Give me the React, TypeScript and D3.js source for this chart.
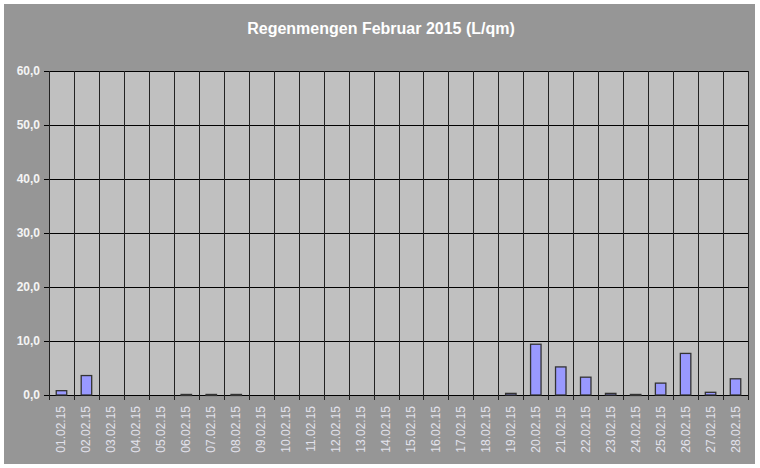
import React from "react";
import * as d3 from "d3";

const categories = [
  "01.02.15","02.02.15","03.02.15","04.02.15","05.02.15","06.02.15","07.02.15",
  "08.02.15","09.02.15","10.02.15","11.02.15","12.02.15","13.02.15","14.02.15",
  "15.02.15","16.02.15","17.02.15","18.02.15","19.02.15","20.02.15","21.02.15",
  "22.02.15","23.02.15","24.02.15","25.02.15","26.02.15","27.02.15","28.02.15",
];
const rain = [
  0.8, 3.6, 0, 0, 0, 0.1, 0.1, 0.1, 0, 0, 0, 0, 0, 0,
  0, 0, 0, 0, 0.3, 9.4, 5.2, 3.3, 0.3, 0.1, 2.2, 7.7, 0.5, 3.0,
];
const yTicks = [0, 10, 20, 30, 40, 50, 60];
const title = "Regenmengen Februar 2015 (L/qm)";

const W = 760, H = 468;
const left = 49, right = 748, top = 71, bottom = 395;
const font = "Arial, 'Liberation Sans', sans-serif";

export default function App() {
  const x = d3.scaleBand().domain(categories).range([left, right]).padding(0);
  const y = d3.scaleLinear().domain([0, 60]).range([bottom, top]);
  const bw = x.bandwidth();
  const barW = bw * 0.42;
  const fmt = (v: number) => v.toFixed(1).replace(".", ",");
  const boundaries = d3.range(categories.length + 1).map((i) => left + i * bw);

  return (
    <svg width={W} height={H} style={{ position: "absolute", left: 0, top: 0, background: "#fff" }}>
      <rect x={4} y={4} width={751} height={460} fill="#969696" />
      <text x={381} y={34} textAnchor="middle" fill="#fff" fontFamily={font} fontWeight="bold" fontSize={16}>
        {title}
      </text>
      <rect x={left} y={top} width={right - left} height={bottom - top} fill="#c0c0c0" />
      {yTicks.map((t) => (
        <g key={t}>
          <line x1={left - 5} x2={right} y1={Math.round(y(t)) + 0.5} y2={Math.round(y(t)) + 0.5} stroke="#000" strokeWidth={1} />
          <text x={40} y={y(t) + 4} textAnchor="end" fill="#f4f4f4" fontFamily={font} fontWeight="bold" fontSize={12}>
            {fmt(t)}
          </text>
        </g>
      ))}
      {boundaries.map((bx, i) => (
        <line key={i} x1={Math.round(bx) + 0.5} x2={Math.round(bx) + 0.5} y1={top} y2={bottom + 5} stroke="#222" strokeWidth={1} />
      ))}
      {categories.map((c, i) => {
        const cx = (x(c) as number) + bw / 2;
        const v = rain[i];
        return (
          <g key={c}>
            {v > 0 && (
              <rect
                x={cx - barW / 2}
                y={y(v)}
                width={barW}
                height={Math.max(bottom - y(v), 1)}
                fill="#9999ff"
                stroke="#333"
                strokeWidth={1.3}
              />
            )}
            <text
              transform={`translate(${cx + 4},${bottom + 11}) rotate(-90)`}
              textAnchor="end"
              fill="#e2e2ec"
              fontFamily={font}
              fontSize={12}
            >
              {c}
            </text>
          </g>
        );
      })}
    </svg>
  );
}
